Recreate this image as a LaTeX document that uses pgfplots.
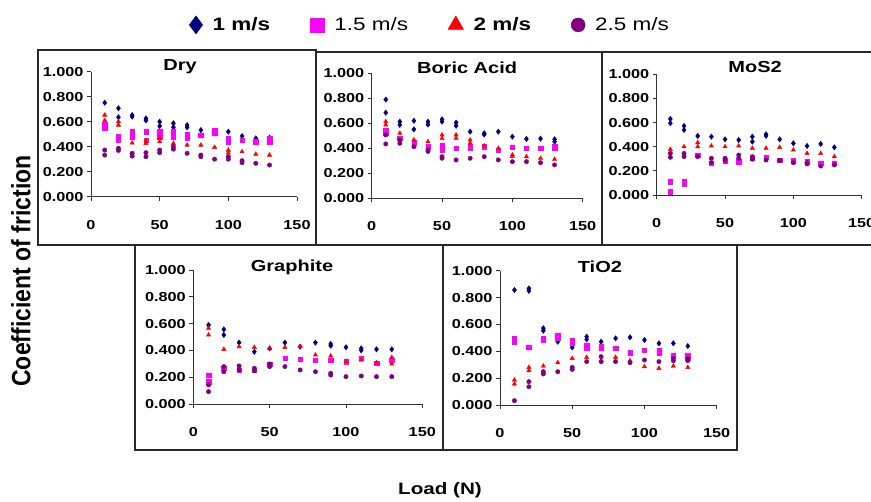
\documentclass[border=0pt]{standalone}
\usepackage{fontspec}
\setmainfont{Liberation Sans}[FakeStretch=1.25]
\newfontfamily\plainfont{Liberation Sans}
\usepackage{pgfplots}
\pgfplotsset{compat=1.18}
\definecolor{cnavy}{RGB}{0,0,128}
\definecolor{cmag}{RGB}{255,0,255}
\definecolor{cred}{RGB}{255,0,0}
\definecolor{cpur}{RGB}{128,0,128}
\definecolor{frame}{RGB}{40,40,40}
\pgfplotsset{
  panel/.style={
    scale only axis, anchor=south west,
    xmin=0, xmax=150, ymin=0, ymax=1,
    axis x line*=bottom, axis y line*=left,
    axis line style={line width=0.9pt, black!80},
    xtick={0,50,100,150}, ytick={0,0.2,0.4,0.6,0.8,1},
    tick align=outside, major tick length=4pt,
    tick style={line width=0.8pt, black!80},
    /pgf/number format/assume math mode=true,
    yticklabel style={/pgf/number format/.cd, fixed, fixed zerofill, precision=3},
    tick label style={font=\bfseries\fontsize{13}{15}\selectfont},
    xticklabel style={yshift=-16pt},
    title style={font=\bfseries\fontsize{16}{18}\selectfont, anchor=center},
    clip=false,
  },
  s1/.style={only marks, mark=diamond*, mark size=2.7pt, mark options={draw=cnavy, fill=cnavy}},
  s2/.style={only marks, mark=square*, mark size=2.2pt, mark options={draw=cmag, fill=cmag}},
  s3/.style={only marks, mark=triangle*, mark size=2.5pt, mark options={draw=cred, fill=cred}},
  s4/.style={only marks, mark=*, mark size=2.2pt, mark options={draw=cpur, fill=cpur}},
}
\begin{document}
\begin{tikzpicture}[x=1pt,y=1pt]
\useasboundingbox (0,0) rectangle (871,502);
% frames
\draw[frame, line width=1.1pt] (38,452) rectangle (316,257);
\draw[frame, line width=1.1pt] (316,450) rectangle (602,257);
\draw[frame, line width=1.1pt] (875,450) -- (602,450) -- (602,257) -- (875,257);
\draw[frame, line width=1.1pt] (135,257) rectangle (443,52);
\draw[frame, line width=1.1pt] (443,257) rectangle (737,52);
% labels
\node[rotate=90, font=\plainfont\bfseries\fontsize{23}{25}\selectfont] at (21,231) {\scalebox{1}[1.15]{Coefficient of friction}};
\node[font=\bfseries\fontsize{16.5}{19}\selectfont] at (440,12) {Load (N)};

% Legend (legend images only)
\begin{axis}[panel, at={(91pt,305.3pt)}, width=206pt, height=125pt,
  hide axis,
  legend columns=4,
  legend style={at={(1.646,1.374)}, anchor=center, draw=none, fill=none,
    font=\fontsize{18}{20}\selectfont,
    /tikz/every even column/.append style={column sep=38pt},
    /tikz/every odd column/.append style={column sep=8pt}},
  legend image code/.code={\draw[#1] plot coordinates {(0pt,0pt)};},
]
\addlegendimage{only marks, mark=diamond*, mark size=9pt, mark options={draw=cnavy, fill=cnavy}}
\addlegendentry{\bfseries 1 m/s}
\addlegendimage{only marks, mark=square*, mark size=7pt, mark options={draw=cmag, fill=cmag}}
\addlegendentry{1.5 m/s}
\addlegendimage{only marks, mark=triangle*, mark size=9pt, mark options={draw=cred, fill=cred}}
\addlegendentry{\bfseries 2 m/s}
\addlegendimage{only marks, mark=*, mark size=7pt, mark options={draw=cpur, fill=cpur}}
\addlegendentry{2.5 m/s}
\end{axis}

% Dry
\begin{axis}[panel, at={(91pt,305.3pt)}, width=206pt, height=125pt,
  title={Dry}, title style={at={(0.432,0.99)}}]
\addplot[s1] coordinates {(10,0.752)(20,0.707)(20,0.635)(30,0.653)(30,0.64)(40,0.627)(40,0.61)(50,0.60)(50,0.565)(60,0.587)(60,0.555)(70,0.573)(70,0.555)(80,0.533)(90,0.52)(100,0.52)(110,0.485)(120,0.467)(130,0.472)};
\addplot[s2] coordinates {(10,0.58)(10,0.55)(20,0.48)(20,0.45)(30,0.52)(30,0.48)(40,0.52)(40,0.45)(50,0.52)(50,0.48)(60,0.52)(60,0.48)(70,0.50)(70,0.47)(80,0.49)(90,0.53)(90,0.51)(100,0.47)(100,0.44)(110,0.45)(120,0.44)(130,0.44)(130,0.47)};
\addplot[s3] coordinates {(10,0.653)(10,0.61)(20,0.60)(20,0.573)(30,0.43)(40,0.45)(40,0.427)(50,0.44)(50,0.47)(60,0.427)(70,0.413)(80,0.413)(90,0.395)(100,0.373)(100,0.35)(110,0.36)(120,0.34)(130,0.333)};
\addplot[s4] coordinates {(10,0.373)(10,0.333)(20,0.387)(20,0.37)(30,0.347)(30,0.325)(40,0.352)(40,0.32)(50,0.373)(50,0.352)(60,0.40)(60,0.38)(70,0.347)(80,0.333)(80,0.32)(90,0.30)(100,0.30)(100,0.32)(110,0.288)(110,0.272)(120,0.267)(130,0.253)};
\end{axis}

% Boric Acid
\begin{axis}[panel, at={(371.7pt,303.7pt)}, width=211pt, height=125pt,
  title={Boric Acid}, title style={at={(0.452,1.0)}}]
\addplot[s1] coordinates {(10,0.79)(10,0.685)(20,0.613)(20,0.587)(30,0.62)(30,0.552)(40,0.613)(40,0.59)(50,0.632)(50,0.613)(60,0.605)(60,0.58)(70,0.533)(80,0.52)(80,0.51)(90,0.533)(100,0.493)(110,0.475)(120,0.477)(130,0.472)(130,0.453)};
\addplot[s2] coordinates {(10,0.547)(10,0.52)(20,0.48)(30,0.445)(40,0.413)(50,0.42)(50,0.387)(60,0.40)(70,0.413)(70,0.40)(80,0.413)(90,0.387)(100,0.408)(110,0.40)(120,0.40)(130,0.40)(130,0.413)};
\addplot[s3] coordinates {(10,0.613)(10,0.587)(20,0.52)(30,0.467)(40,0.453)(50,0.507)(50,0.48)(60,0.507)(60,0.48)(70,0.467)(70,0.44)(80,0.42)(90,0.40)(100,0.347)(100,0.335)(110,0.333)(120,0.32)(130,0.312)};
\addplot[s4] coordinates {(10,0.507)(10,0.435)(20,0.467)(20,0.44)(30,0.413)(40,0.387)(40,0.375)(50,0.333)(50,0.32)(60,0.307)(70,0.32)(80,0.333)(90,0.307)(100,0.293)(110,0.293)(120,0.285)(130,0.267)};
\end{axis}

% MoS2
\begin{axis}[panel, at={(656.7pt,307pt)}, width=205pt, height=120.7pt,
  title={MoS2}, title style={at={(0.48,1.01)}}]
\addplot[s1] coordinates {(10,0.63)(10,0.594)(20,0.572)(20,0.539)(30,0.489)(40,0.483)(50,0.461)(60,0.456)(70,0.483)(70,0.442)(80,0.503)(80,0.49)(90,0.461)(100,0.428)(110,0.406)(120,0.423)(130,0.395)};
\addplot[s2] coordinates {(10,0.11)(10,0.028)(20,0.11)(20,0.09)(30,0.33)(40,0.262)(50,0.285)(60,0.276)(70,0.304)(80,0.312)(90,0.29)(100,0.285)(110,0.276)(120,0.262)(130,0.262)};
\addplot[s3] coordinates {(10,0.378)(20,0.40)(30,0.434)(30,0.40)(40,0.406)(50,0.40)(60,0.406)(70,0.387)(80,0.387)(90,0.395)(100,0.373)(110,0.345)(120,0.345)(130,0.318)};
\addplot[s4] coordinates {(10,0.345)(10,0.312)(20,0.345)(20,0.318)(30,0.318)(40,0.304)(40,0.268)(50,0.304)(50,0.285)(60,0.331)(60,0.304)(70,0.318)(70,0.296)(80,0.29)(90,0.285)(100,0.268)(110,0.268)(110,0.258)(120,0.24)(130,0.249)};
\end{axis}

% Graphite
\begin{axis}[panel, at={(193.3pt,98pt)}, width=229pt, height=134pt,
  title={Graphite}, title style={at={(0.431,0.978)}}]
\addplot[s1] coordinates {(10,0.59)(20,0.557)(20,0.515)(30,0.458)(40,0.39)(50,0.415)(60,0.458)(70,0.428)(80,0.458)(90,0.448)(90,0.435)(100,0.423)(110,0.415)(110,0.40)(120,0.408)(130,0.408)};
\addplot[s2] coordinates {(10,0.216)(10,0.167)(20,0.266)(30,0.254)(40,0.254)(50,0.299)(60,0.341)(70,0.333)(80,0.328)(90,0.328)(100,0.316)(110,0.341)(120,0.303)(130,0.328)};
\addplot[s3] coordinates {(10,0.565)(10,0.515)(20,0.408)(30,0.428)(40,0.423)(50,0.415)(60,0.423)(70,0.428)(80,0.366)(90,0.358)(100,0.316)(110,0.328)(120,0.308)(130,0.348)(130,0.299)};
\addplot[s4] coordinates {(10,0.142)(10,0.092)(20,0.279)(20,0.241)(30,0.284)(30,0.254)(40,0.266)(40,0.249)(50,0.299)(50,0.279)(60,0.279)(70,0.254)(80,0.241)(90,0.229)(90,0.216)(100,0.204)(110,0.209)(120,0.204)(130,0.204)};
\end{axis}

% TiO2
\begin{axis}[panel, at={(500pt,97pt)}, width=216.7pt, height=134.3pt,
  title={TiO2}, title style={at={(0.461,0.983)}}]
\addplot[s1] coordinates {(10,0.856)(20,0.868)(20,0.85)(30,0.571)(30,0.553)(40,0.471)(50,0.429)(60,0.509)(60,0.489)(70,0.471)(80,0.496)(90,0.504)(100,0.484)(110,0.459)(120,0.459)(130,0.439)};
\addplot[s2] coordinates {(10,0.496)(10,0.471)(20,0.429)(30,0.496)(30,0.484)(40,0.521)(40,0.496)(50,0.484)(50,0.464)(60,0.447)(60,0.422)(70,0.439)(70,0.422)(80,0.422)(90,0.39)(100,0.409)(110,0.409)(110,0.385)(120,0.372)(130,0.372)(130,0.347)};
\addplot[s3] coordinates {(10,0.186)(10,0.156)(20,0.28)(20,0.256)(30,0.29)(40,0.315)(50,0.347)(60,0.355)(70,0.33)(80,0.355)(90,0.33)(100,0.285)(110,0.273)(120,0.29)(130,0.28)};
\addplot[s4] coordinates {(10,0.032)(20,0.174)(20,0.136)(30,0.248)(30,0.231)(40,0.248)(50,0.28)(50,0.265)(60,0.323)(70,0.36)(70,0.323)(80,0.323)(90,0.315)(100,0.335)(110,0.323)(120,0.347)(120,0.33)(130,0.347)(130,0.33)};
\end{axis}
\end{tikzpicture}
\end{document}
